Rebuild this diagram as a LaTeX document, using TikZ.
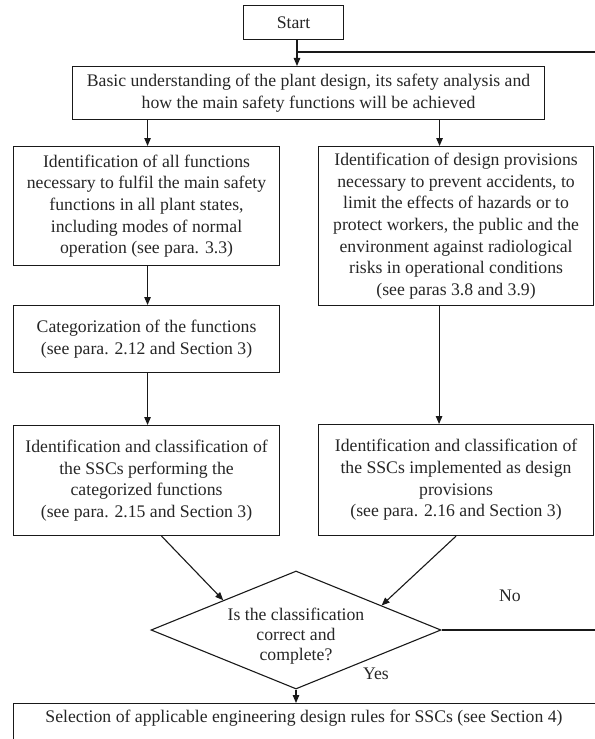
\documentclass[tikz,border=0pt]{standalone}
\usepackage{fontspec}
\setmainfont{Liberation Serif}
\usetikzlibrary{arrows.meta,shapes.geometric}
\tikzset{
  txt/.style={font=\fontsize{17.7bp}{21.7bp}\selectfont, text=black!85, align=center, inner sep=0pt},
  box/.style={txt, draw=black!90, line width=1.1bp, anchor=north west},
  conn/.style={draw=black!90, line width=1.1bp},
  arr/.style={conn, -{Triangle[length=8bp,width=6.5bp]}},
}
\begin{document}
\begin{tikzpicture}[x=1bp,y=-1bp]
\useasboundingbox (0,0) rectangle (595,739);
% boxes
\node[box, minimum width=100bp, minimum height=34bp] (start) at (243,5) {Start};
\node[box, minimum width=472bp, minimum height=53bp] (basic) at (72,66)
  {Basic understanding of the plant design, its safety analysis and\\how the main safety functions will be achieved};
\node[box, minimum width=266bp, minimum height=119bp] (l1) at (13,146)
  {Identification of all functions\\necessary to fulfil the main safety\\functions in all plant states,\\including modes of normal\\operation (see para. 3.3)};
\node[box, minimum width=275bp, minimum height=159bp] (r1) at (318,146)
  {Identification of design provisions\\necessary to prevent accidents, to\\limit the effects of hazards or to\\protect workers, the public and the\\environment against radiological\\risks in operational conditions\\(see paras 3.8 and 3.9)};
\node[box, minimum width=266bp, minimum height=67bp] (cat) at (13,305)
  {Categorization of the functions\\(see para. 2.12 and Section 3)};
\node[box, minimum width=266bp, minimum height=110bp] (l3) at (13,425)
  {Identification and classification of\\the SSCs performing the\\categorized functions\\(see para. 2.15 and Section 3)};
\node[box, minimum width=275bp, minimum height=111bp] (r3) at (318,424)
  {Identification and classification of\\the SSCs implemented as design\\provisions\\(see para. 2.16 and Section 3)};
\node[txt, draw=black!90, line width=1.1bp, diamond, minimum width=290bp, minimum height=118bp, inner sep=0pt] (dia) at (296,630) {};
\node[txt, font=\fontsize{17.7bp}{20bp}\selectfont] (diatext) at (296,636) {Is the classification\\correct and\\complete?};
\node[box, minimum width=597bp, minimum height=60bp] (final) at (13,703) {};
\node[txt] (finaltext) at (304,718) {Selection of applicable engineering design rules for SSCs (see Section 4)};
\node[txt] (no) at (510,596) {No};
\node[txt] (yes) at (376,674) {Yes};
% helper coordinates
\coordinate (join) at (297,52);
\coordinate (loopcorner) at (600,630);
% connectors
\draw[arr] (start.south -| join) -- (basic.north -| join);
\draw[conn] (dia.east) -- (loopcorner) |- (join);
\draw[arr] ([xshift=-161bp]basic.south -| basic.center) -- ([xshift=-161bp]l1.north -| basic.center);
\draw[arr] ([xshift=131bp]basic.south -| basic.center) -- ([xshift=131bp]r1.north -| basic.center);
\draw[arr] ([xshift=1bp]l1.south) -- ([xshift=1bp]cat.north);
\draw[arr] ([xshift=1bp]cat.south) -- ([xshift=1bp]l3.north);
\draw[arr] ([xshift=-17bp]r1.south) -- ([xshift=-17bp]r3.north);
\draw[arr] ([xshift=15bp]l3.south) -- (dia.north west);
\draw[arr] (r3.south) -- (dia.16);
\draw[arr] (dia.south) -- (dia.south |- final.north);
\end{tikzpicture}
\end{document}
